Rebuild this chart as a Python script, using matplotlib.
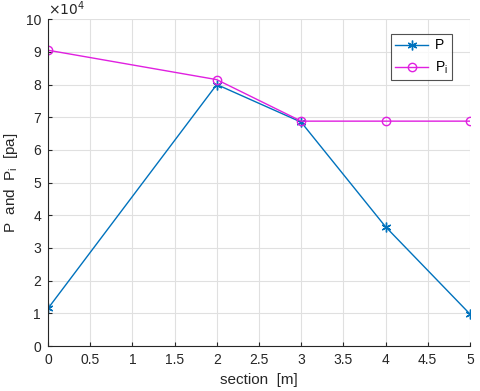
import matplotlib
matplotlib.use("Agg")
import matplotlib.pyplot as plt

plt.rcParams['font.family'] = ['Liberation Sans', 'DejaVu Sans']

section = [0, 2, 3, 4, 5]
P = [1.15e4, 8.0e4, 6.85e4, 3.65e4, 0.98e4]
Pi = [9.05e4, 8.15e4, 6.88e4, 6.88e4, 6.88e4]
xticks = [0, 0.5, 1, 1.5, 2, 2.5, 3, 3.5, 4, 4.5, 5]
yticks = [0, 1, 2, 3, 4, 5, 6, 7, 8, 9, 10]

fig = plt.figure(figsize=(4.8, 3.91), dpi=100)
ax = fig.add_axes([0.1, 0.115, 0.879, 0.836])

ax.plot(section, [v / 1e4 for v in P], color='#0072BD', marker=(6, 2, 0), markersize=7,
        markeredgewidth=1, linewidth=1, label='P')
ax.plot(section, [v / 1e4 for v in Pi], color='#E020E0', marker='o', markersize=6,
        markerfacecolor='none', linewidth=1, label='P$_\\mathregular{i}$')

ax.set_xlim(0, 5)
ax.set_ylim(0, 10)
ax.set_xticks(xticks)
ax.set_xticklabels([f'{t:g}' for t in xticks])
ax.set_yticks(yticks)
ax.set_yticklabels([str(t) for t in yticks])
ax.grid(True, color='#E0E0E0', linewidth=0.8)
ax.set_axisbelow(True)
for s in ['top', 'right']:
    ax.spines[s].set_visible(False)
for s in ['left', 'bottom']:
    ax.spines[s].set_color('#262626')
ax.tick_params(direction='in', length=3, colors='#262626', labelsize=10, pad=5)
ax.set_xlabel('section  [m]', fontsize=11, color='#262626')
ax.set_ylabel('P  and  P$_\\mathregular{i}$  [pa]', fontsize=11, color='#262626')
ax.text(0.0, 1.005, '$\\times10^{4}$', transform=ax.transAxes, fontsize=10,
        color='#262626', va='bottom', ha='left')
leg = ax.legend(loc='upper right', bbox_to_anchor=(0.975, 0.975), fancybox=False,
                edgecolor='#262626', fontsize=10, handlelength=2.4, borderpad=0.3,
                handletextpad=0.5)
leg.get_frame().set_linewidth(0.8)

fig.savefig('out.png', dpi=100)
